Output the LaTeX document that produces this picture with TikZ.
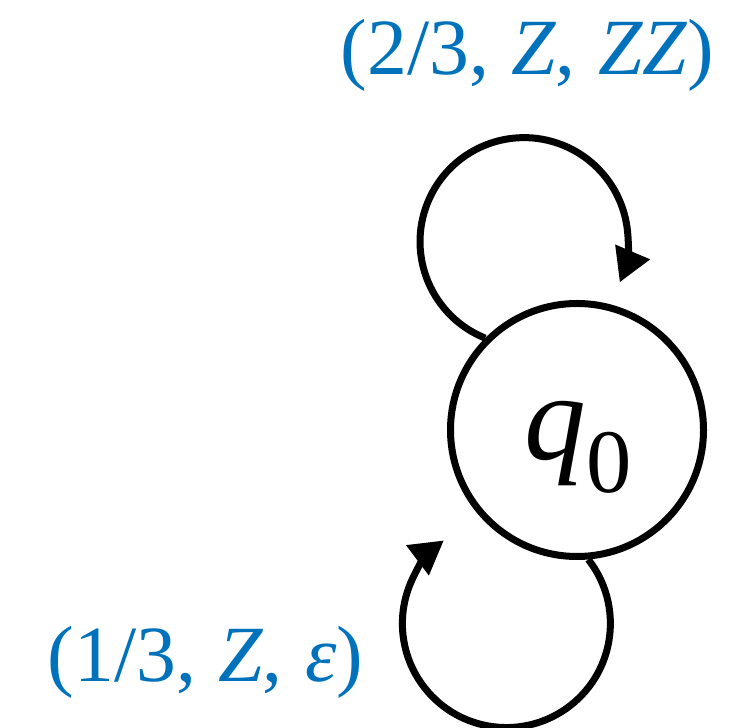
\documentclass[tikz,border=0pt]{standalone}
\usepackage{fontspec}
\setmainfont{Liberation Serif}
\usetikzlibrary{arrows.meta}
\definecolor{lblblue}{RGB}{0,114,188}
\newcommand{\gapsp}{\hspace{0.28em}}
\begin{document}
\begin{tikzpicture}[x=1bp,y=1bp,
  statenode/.style={draw, circle, line width=7bp, minimum size=253bp, inner sep=0pt},
  selfloop/.style={line width=7bp, -{Triangle[length=33bp,width=36bp]}},
  lbl/.style={text=lblblue, font=\fontsize{80}{90}\selectfont, anchor=base, inner sep=0pt}]
\useasboundingbox (0,0) rectangle (748,728);
\node[statenode] (q0) at (577,298) {};
\node[anchor=base, inner sep=0pt, font=\fontsize{124}{130}\selectfont] (q0text) at (578,268) {\textit{q}\raisebox{-33bp}{\fontsize{91}{100}\selectfont 0}};
\draw[selfloop] (q0.135) arc[start angle=248, end angle=-23, radius=104];
\draw[selfloop] (q0.-85) arc[start angle=38, end angle=-233, radius=104];
\node[lbl] (toplbl) at (527.5,653) {(2/3,\gapsp\textit{Z},\gapsp\textit{ZZ})};
\node[lbl] (botlbl) at (205.5,46) {(1/3,\gapsp\textit{Z},\gapsp\textit{ε})};
\end{tikzpicture}
\end{document}
